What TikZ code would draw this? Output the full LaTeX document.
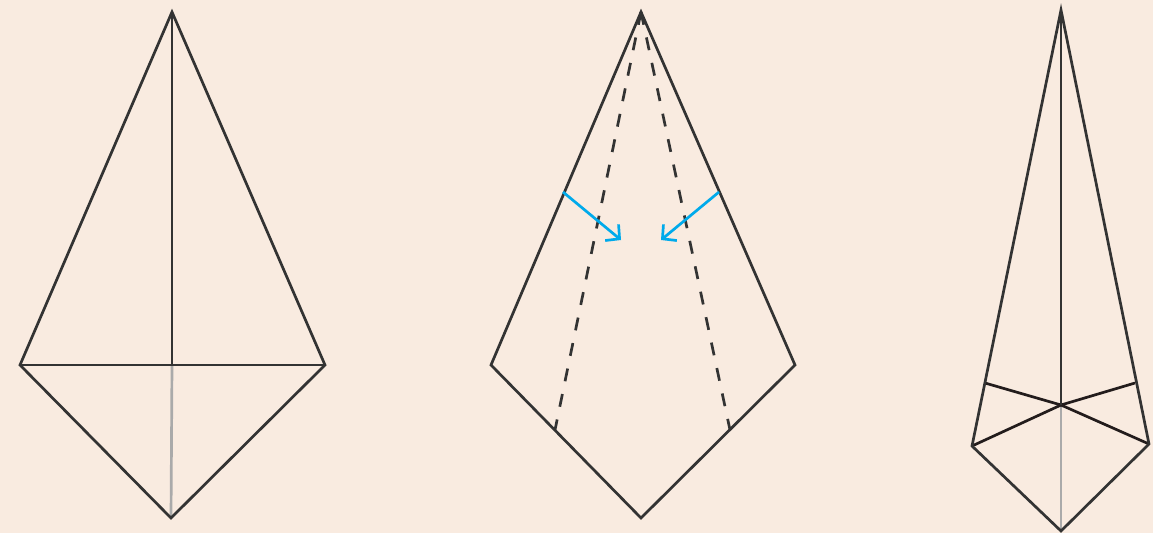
\documentclass[tikz,border=0pt]{standalone}
\usetikzlibrary{arrows.meta}
\definecolor{bg}{RGB}{249,235,224}
\definecolor{ink}{RGB}{51,51,51}
\definecolor{inkdark}{RGB}{35,28,28}
\definecolor{fold}{RGB}{170,170,170}
\definecolor{arrowc}{RGB}{0,170,235}
\tikzset{
  edge/.style={draw=ink, line width=2.7pt, line join=miter},
  crease/.style={draw=fold, line width=2.7pt},
  cross/.style={draw=inkdark, line width=2.7pt, line join=round},
  dashline/.style={draw=ink, line width=2.7pt, dash pattern=on 13pt off 13pt},
  foldarrow/.style={draw=arrowc, line width=2.7pt, -{Straight Barb[length=10pt,width=21pt,line width=2.7pt]}}
}
\begin{document}
\begin{tikzpicture}[x=1pt,y=-1pt]
\fill[bg] (0,0) rectangle (1153,533);
\useasboundingbox (0,0) rectangle (1153,533);
% figure 1
\coordinate (a1) at (172,12);
\coordinate (l1) at (20,365);
\coordinate (r1) at (325,365);
\coordinate (b1) at (171,518);
\coordinate (c1) at (172,365);
\draw[crease] (c1) -- (b1);
\draw[edge] (a1) -- (l1) -- (b1) -- (r1) -- cycle;
\draw[edge] (l1) -- (r1);
\draw[edge] (a1) -- (c1);
% figure 2
\coordinate (a2) at (641,12);
\coordinate (l2) at (491,365);
\coordinate (r2) at (795,365);
\coordinate (b2) at (641,518);
\coordinate (dl) at (555,430);
\coordinate (dr) at (730,430);
\draw[dashline] (a2) -- (dl);
\draw[dashline] (a2) -- (dr);
\draw[edge] (a2) -- (l2) -- (b2) -- (r2) -- cycle;
\coordinate (s1) at (563,192);
\coordinate (e1) at (621,240);
\coordinate (s2) at (719,192);
\coordinate (e2) at (661,240);
\draw[foldarrow] (s1) -- (e1);
\draw[foldarrow] (s2) -- (e2);
% figure 3
\coordinate (a3) at (1061,10);
\coordinate (l3) at (972,446);
\coordinate (r3) at (1149,444);
\coordinate (b3) at (1061,531);
\coordinate (c3) at (1061,405);
\coordinate (ul) at (985,383);
\coordinate (ur) at (1135,383);
\draw[crease] (c3) -- (b3);
\draw[cross] (l3) -- (c3) -- (ur);
\draw[cross] (ul) -- (c3) -- (r3);
\draw[edge] (a3) -- (l3) -- (b3) -- (r3) -- cycle;
\draw[edge] (a3) -- (c3);
\end{tikzpicture}
\end{document}
